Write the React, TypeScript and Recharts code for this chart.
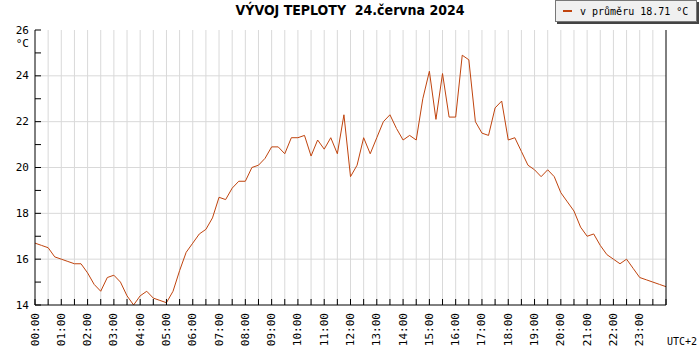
import { LineChart, Line, XAxis, YAxis, CartesianGrid, Legend } from 'recharts'

// temperature every 15 minutes, 00:00 .. 24:00
const SAMPLE_MINUTES = 15
const temperature = [
  16.7, 16.6, 16.5, 16.1, 16.0, 15.9, 15.8, 15.8, 15.4, 14.9, 14.6, 15.2,
  15.3, 15.0, 14.4, 14.0, 14.4, 14.6, 14.3, 14.2, 14.1, 14.6, 15.5, 16.3,
  16.7, 17.1, 17.3, 17.8, 18.7, 18.6, 19.1, 19.4, 19.4, 20.0, 20.1, 20.4,
  20.9, 20.9, 20.6, 21.3, 21.3, 21.4, 20.5, 21.2, 20.8, 21.3, 20.6, 22.3,
  19.6, 20.1, 21.3, 20.6, 21.3, 22.0, 22.3, 21.7, 21.2, 21.4, 21.2, 23.0,
  24.2, 22.1, 24.1, 22.2, 22.2, 24.9, 24.7, 22.0, 21.5, 21.4, 22.6, 22.9,
  21.2, 21.3, 20.7, 20.1, 19.9, 19.6, 19.9, 19.6, 18.9, 18.5, 18.1, 17.4,
  17.0, 17.1, 16.6, 16.2, 16.0, 15.8, 16.0, 15.6, 15.2, 15.1, 15.0, 14.9,
  14.8,
]

const hourLabels = [
  '00:00', '01:00', '02:00', '03:00', '04:00', '05:00', '06:00', '07:00',
  '08:00', '09:00', '10:00', '11:00', '12:00', '13:00', '14:00', '15:00',
  '16:00', '17:00', '18:00', '19:00', '20:00', '21:00', '22:00', '23:00',
]
const yTicks = [14, 15, 16, 17, 18, 19, 20, 21, 22, 23, 24, 25, 26]
const yGrid = [16, 18, 20, 22, 24]

const TITLE = 'VÝVOJ TEPLOTY  24.června 2024'
const AVERAGE_LABEL = 'v průměru 18.71 °C'
const UNIT = '°C'
const TIMEZONE = 'UTC+2'

const LINE_COLOR = '#c0440e'
const GRID_COLOR = '#d9d9d9'
const MONO = '"DejaVu Sans Mono", monospace'

const data = temperature.map((t, i) => ({ min: i * SAMPLE_MINUTES, t }))
const halfHourTicks = Array.from({ length: 49 }, (_, i) => i * 30)
const gridMinutes = halfHourTicks.slice(1, -1)

function TimeTick(props: any) {
  const { x, y, payload } = props
  const label = payload.value % 60 === 0 ? hourLabels[payload.value / 60] : undefined
  if (!label) return null
  return (
    <text
      x={x}
      y={y}
      transform={`rotate(-90 ${x} ${y})`}
      textAnchor="end"
      dominantBaseline="central"
      fontFamily={MONO}
      fontSize={11}
      fill="#000"
    >
      {label}
    </text>
  )
}

function TempTick(props: any) {
  const { x, y, payload, textAnchor, withUnit } = props
  if (payload.value % 2 !== 0) return null
  return (
    <g>
      <text x={x} y={y} textAnchor={textAnchor} dominantBaseline="central" fontFamily={MONO} fontSize={11} fill="#000">
        {payload.value}
      </text>
      {withUnit && payload.value === 26 && (
        <text x={x} y={y + 13} textAnchor={textAnchor} dominantBaseline="central" fontFamily={MONO} fontSize={11} fill="#000">
          {UNIT}
        </text>
      )}
    </g>
  )
}

function AverageLegend() {
  return (
    <div
      style={{
        boxSizing: 'border-box',
        width: 142,
        height: 22,
        border: '1px solid #777',
        background: '#f0f0f0',
        boxShadow: '2px 2px 0 #444',
        display: 'flex',
        alignItems: 'center',
        fontFamily: MONO,
        fontSize: 10,
        color: '#000',
      }}
    >
      <span style={{ display: 'inline-block', width: 9, height: 2, background: LINE_COLOR, margin: '0 8px 0 7px' }} />
      <span>{AVERAGE_LABEL}</span>
    </div>
  )
}

export default function App() {
  return (
    <div style={{ position: 'absolute', left: 0, top: 0, width: 700, height: 350, background: '#fff' }}>
      <div
        style={{
          position: 'absolute',
          top: 2,
          left: 0,
          width: 700,
          textAlign: 'center',
          whiteSpace: 'pre',
          fontFamily: '"DejaVu Sans Condensed", "DejaVu Sans", sans-serif',
          fontWeight: 'bold',
          fontSize: 14,
          color: '#000',
        }}
      >
        {TITLE}
      </div>
      <LineChart width={700} height={350} data={data} margin={{ top: 30, right: 0, bottom: 0, left: 0 }}>
        <CartesianGrid
          xAxisId="time"
          yAxisId="left"
          stroke={GRID_COLOR}
          horizontalValues={yGrid}
          verticalValues={gridMinutes}
        />
        <XAxis
          xAxisId="time"
          dataKey="min"
          type="number"
          domain={[0, 1440]}
          ticks={halfHourTicks}
          interval={0}
          height={45}
          stroke="#000"
          tickSize={-6}
          tickMargin={14}
          tick={<TimeTick />}
        />
        <YAxis
          yAxisId="left"
          orientation="left"
          domain={[14, 26]}
          ticks={yTicks}
          interval={0}
          width={35}
          stroke="#000"
          tickSize={-6}
          tickMargin={12}
          tick={<TempTick withUnit />}
        />
        <YAxis
          yAxisId="right"
          orientation="right"
          domain={[14, 26]}
          ticks={yTicks}
          interval={0}
          width={34}
          stroke="#000"
          tickSize={-6}
          tickMargin={14}
          tick={<TempTick />}
        />
        <Legend
          layout="vertical"
          align="center"
          verticalAlign="middle"
          content={<AverageLegend />}
          wrapperStyle={{ position: 'absolute', top: 0, left: 555, width: 144 }}
        />
        <Line
          xAxisId="time"
          yAxisId="left"
          dataKey="t"
          type="linear"
          stroke={LINE_COLOR}
          strokeWidth={1}
          dot={false}
          isAnimationActive={false}
        />
      </LineChart>
      <div style={{ position: 'absolute', left: 667, top: 336, fontFamily: MONO, fontSize: 10, color: '#000' }}>
        {TIMEZONE}
      </div>
    </div>
  )
}
